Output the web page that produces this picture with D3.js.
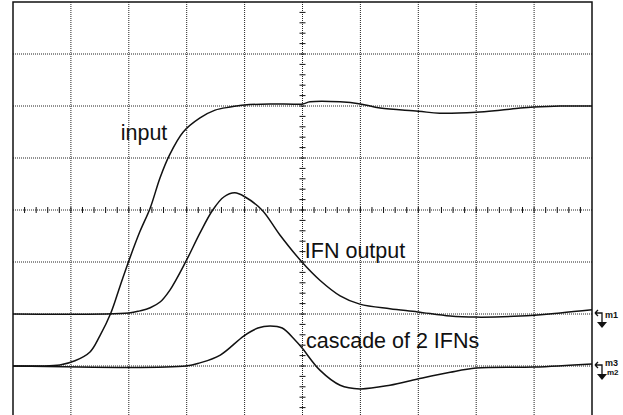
<!DOCTYPE html>
<html>
<head>
<meta charset="utf-8">
<script src="https://cdn.jsdelivr.net/npm/d3@7"></script>
<style>
  body { margin: 0; background: #fff; }
  svg { display: block; }
  .grid line { stroke: #222; stroke-width: 1; stroke-dasharray: 1,1; }
  .trace { fill: none; stroke: #111; stroke-width: 1.5; }
  .lbl { font-family: "Liberation Sans", Arial, sans-serif; font-size: 21.5px; fill: #111; }
  .mk { font-family: "Liberation Sans", Arial, sans-serif; font-size: 9px; font-weight: bold; fill: #111; }
</style>
</head>
<body>
<svg width="623" height="415"></svg>
<script>
// time in divisions (0..10), amplitude in divisions (-4..4)
const inputT = [0, 0.47, 0.81, 1.07, 1.33, 1.5, 1.69, 1.85, 2.0, 2.19, 2.37, 2.54, 2.7, 2.94, 3.23, 3.49, 3.75, 4.0, 4.44, 5.0, 5.13, 5.65, 6.0, 6.34, 7.0, 7.37, 8.0, 8.41, 8.76, 9.0, 9.45, 10];
const inputV = [-3, -3, -2.98, -2.9, -2.73, -2.42, -1.98, -1.46, -0.98, -0.42, 0.04, 0.62, 1.05, 1.5, 1.77, 1.92, 1.98, 2.02, 2.04, 2.04, 2.08, 2.08, 2.04, 1.96, 1.9, 1.86, 1.88, 1.92, 1.96, 1.98, 2.0, 2.0];

const ifnT = [0, 2.0, 2.19, 2.37, 2.54, 2.71, 2.99, 3.23, 3.45, 3.64, 3.83, 4.01, 4.3, 4.61, 4.99, 5.3, 5.65, 5.99, 6.51, 6.99, 7.55, 8.0, 8.76, 9.45, 10];
const ifnV = [-2, -1.98, -1.94, -1.88, -1.77, -1.54, -0.98, -0.44, 0, 0.25, 0.33, 0.25, 0, -0.48, -1.0, -1.35, -1.65, -1.81, -1.9, -1.96, -2.04, -2.06, -2.04, -1.98, -1.92];

const cascT = [0, 2.99, 3.23, 3.58, 3.99, 4.23, 4.44, 4.65, 4.87, 4.99, 5.3, 5.65, 5.99, 6.51, 6.99, 7.55, 8.0, 9.0, 10];
const cascV = [-3, -3, -2.94, -2.79, -2.42, -2.27, -2.23, -2.27, -2.5, -2.65, -3.08, -3.37, -3.44, -3.37, -3.25, -3.12, -3.04, -3.02, -2.96];

const labels = [
  { text: "input", t: 1.86, v: 1.35 },
  { text: "IFN output", t: 5.04, v: -0.92 },
  { text: "cascade of 2 IFNs", t: 5.06, v: -2.66 }
];
const markers = [
  { name: "m1", sub: "", v: -2 },
  { name: "m3", sub: "m2", v: -3 }
];

const svg = d3.select("svg");
const x = d3.scaleLinear().domain([0, 10]).range([13, 592]);
const y = d3.scaleLinear().domain([-4, 4]).range([418, 2]);

// dotted graticule
const grid = svg.append("g").attr("class", "grid");
grid.selectAll("line.v").data(d3.range(1, 10)).enter().append("line")
  .attr("x1", d => x(d)).attr("x2", d => x(d)).attr("y1", y(4)).attr("y2", y(-4));
grid.selectAll("line.h").data(d3.range(-3, 4)).enter().append("line")
  .attr("x1", x(0)).attr("x2", x(10)).attr("y1", d => y(d)).attr("y2", d => y(d));

// centre axes with minor ticks
const ticks = svg.append("g").attr("stroke", "#111").attr("stroke-width", 1);
ticks.selectAll("line.tx").data(d3.range(0.2, 10, 0.2)).enter().append("line")
  .attr("x1", d => x(d)).attr("x2", d => x(d)).attr("y1", y(0) - 3).attr("y2", y(0) + 3);
ticks.selectAll("line.ty").data(d3.range(-4, 4, 0.2)).enter().append("line")
  .attr("y1", d => y(d)).attr("y2", d => y(d)).attr("x1", x(5) - 3).attr("x2", x(5) + 3);

// frame
svg.append("path")
  .attr("d", `M${x(0)},420 V${y(4)} H${x(10)} V420`)
  .attr("fill", "none").attr("stroke", "#111").attr("stroke-width", 1.5);

const line = d3.line().x(d => x(d[0])).y(d => y(d[1])).curve(d3.curveCatmullRom.alpha(0.5));
const traces = [d3.zip(inputT, inputV), d3.zip(ifnT, ifnV), d3.zip(cascT, cascV)];
svg.selectAll("path.trace").data(traces).enter().append("path")
  .attr("class", "trace").attr("d", line);

svg.selectAll("text.lbl").data(labels).enter().append("text")
  .attr("class", "lbl")
  .attr("x", d => x(d.t)).attr("y", d => y(d.v))
  .text(d => d.text);

// ground markers on the right
const mk = svg.selectAll("g.mk").data(markers).enter().append("g")
  .attr("transform", d => `translate(${x(10)},${y(d.v)})`);
mk.append("path")
  .attr("d", "M3,-1 L6,-4 M3,-1 L6,2 M3,-1 H10 V8")
  .attr("fill", "none").attr("stroke", "#111").attr("stroke-width", 1.3);
mk.append("path").attr("d", "M5,8 H15 L10,14 Z").attr("fill", "#111");
mk.append("text").attr("class", "mk").attr("x", 13).attr("y", d => d.sub ? 0 : 4).text(d => d.name);
mk.append("text").attr("class", "mk").attr("x", 15).attr("y", 9).style("font-size", "8px").text(d => d.sub);
</script>
</body>
</html>
